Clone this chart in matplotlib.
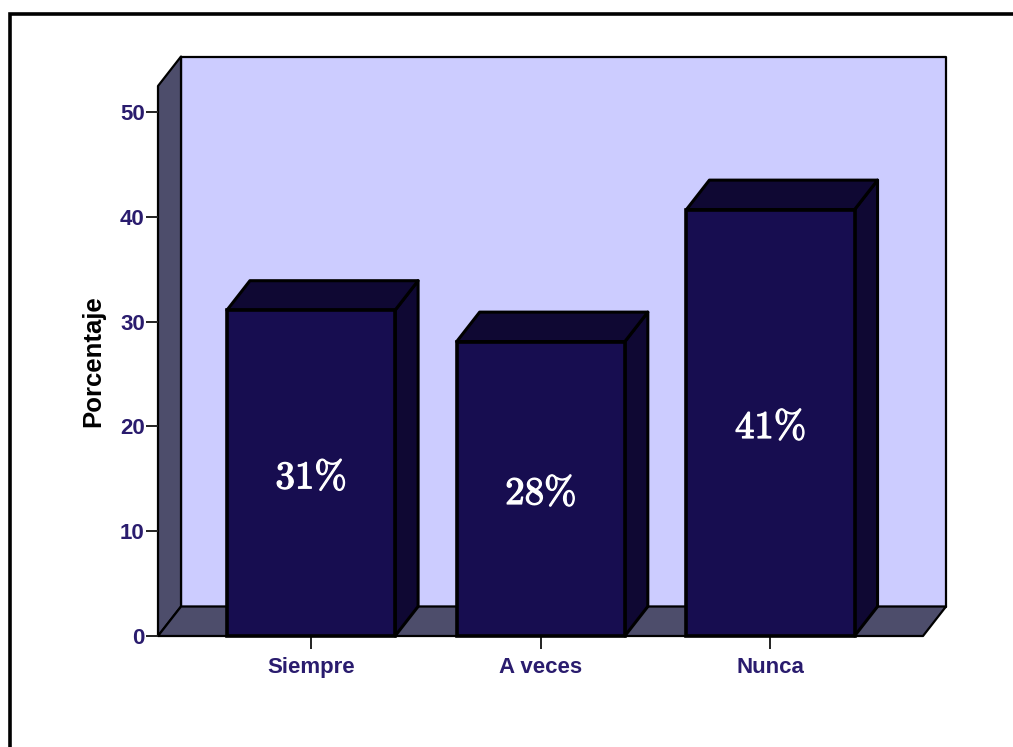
#!/usr/bin/env python3
import matplotlib
matplotlib.use("Agg")
import matplotlib.patheffects as pe
import matplotlib.pyplot as plt
from matplotlib.lines import Line2D
from matplotlib.patches import Polygon

categories = ["Siempre", "A veces", "Nunca"]
values = [31.1, 28.1, 40.7]
labels = ["31%", "28%", "41%"]
yticks = [0, 10, 20, 30, 40, 50]

W, H = 1013, 747
NAVY = "#170d50"
DARK = "#0f0833"
WALL = "#ccccff"
SIDE = "#4d4d6b"
TEXT = "#2a1c6e"

BAR_W = 0.732
YMAX = 52.5
XMIN, XMAX = -0.666, 2.664
DX = 23 / 229.7   # depth offset in x units
DY = 29.5 / 10.48   # depth offset in y units

plt.rcParams["mathtext.fontset"] = "cm"

fig = plt.figure(figsize=(W / 100, H / 100), dpi=100, facecolor="white")

# frame round the picture: only left and top
fig.add_artist(Line2D([9.5 / W, 9.5 / W, 1], [0, 1 - 14 / H, 1 - 14 / H], color="black", lw=2.6, solid_joinstyle="miter"))

ax = fig.add_axes([158 / W, 1 - 636 / H, (923 - 158) / W, (636 - 86) / H])
ax.set_xlim(XMIN, XMAX)
ax.set_ylim(0, YMAX)
ax.patch.set_visible(False)
for s in ax.spines.values():
	s.set_visible(False)


def face(pts, color, z=1, lw=1.6):
	ax.add_patch(Polygon(pts, closed=True, facecolor=color, edgecolor="black", lw=lw, zorder=z, clip_on=False, joinstyle="round"))


# back wall, side wall and floor
face([(XMIN + DX, DY), (XMAX + DX, DY), (XMAX + DX, YMAX + DY), (XMIN + DX, YMAX + DY)], WALL)
face([(XMIN, 0), (XMIN + DX, DY), (XMIN + DX, YMAX + DY), (XMIN, YMAX)], SIDE)
face([(XMIN, 0), (XMAX, 0), (XMAX + DX, DY), (XMIN + DX, DY)], SIDE)

# 3d bars
for i, v in enumerate(values):
	x0, x1 = i - BAR_W / 2, i + BAR_W / 2
	face([(x1, 0), (x1 + DX, DY), (x1 + DX, v + DY), (x1, v)], DARK, z=3, lw=2.2)
	face([(x0, v), (x1, v), (x1 + DX, v + DY), (x0 + DX, v + DY)], DARK, z=3, lw=2.2)
	ax.bar(i, v, width=BAR_W, color=NAVY, edgecolor="black", lw=2.6, zorder=4, clip_on=False)
	txt = ax.annotate("$\\mathbf{" + labels[i].replace("%", "\\%") + "}$", (i, v / 2), xytext=(0, -3), textcoords="offset points", color="white", ha="center", va="center", fontsize=28, zorder=5)
	txt.set_path_effects([pe.withStroke(linewidth=0.9, foreground="white")])

ax.set_xticks(range(len(categories)), categories)
ax.set_yticks(yticks)
ax.tick_params(axis="both", length=9, width=1.4, color="#222222", labelcolor=TEXT)
ax.tick_params(axis="x", pad=6)
ax.tick_params(axis="y", pad=0.5)
for t in ax.get_xticklabels() + ax.get_yticklabels():
	t.set_family("Liberation Sans")
	t.set_fontweight("bold")
	t.set_fontsize(16)
ax.set_ylabel("Porcentaje", family="Liberation Sans", fontweight="bold", fontsize=18.5, color="black")
ax.yaxis.set_label_coords((105 - 158) / (923 - 158), (636 - 361) / (636 - 86))

fig.savefig("out.png", dpi=100, facecolor="white")
